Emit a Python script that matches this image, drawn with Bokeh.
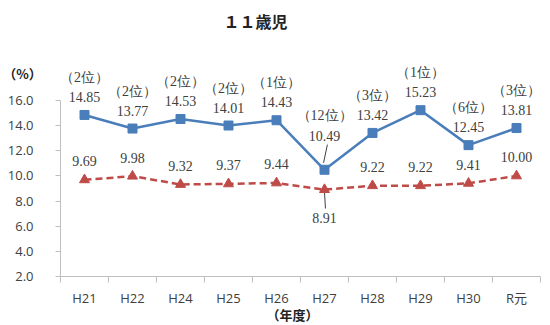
from bokeh.plotting import figure
from bokeh.models import ColumnDataSource, LabelSet, Label, Range1d, FixedTicker
from bokeh.embed import file_html
from bokeh.resources import INLINE

categories = ["H21", "H22", "H24", "H25", "H26", "H27", "H28", "H29", "H30", "R元"]
blue_values = [14.85, 13.77, 14.53, 14.01, 14.43, 10.49, 13.42, 15.23, 12.45, 13.81]
red_values = [9.69, 9.98, 9.32, 9.37, 9.44, 8.91, 9.22, 9.22, 9.41, 10.00]
ranks = ["（2位）", "（2位）", "（2位）", "（2位）", "（1位）", "（12位）", "（3位）", "（1位）", "（6位）", "（3位）"]
y_ticks = [2, 4, 6, 8, 10, 12, 14, 16]

FONT = "'Open Sans', 'Noto Sans CJK JP', sans-serif"
CJK = "'Noto Sans CJK JP', sans-serif"
BLUE = "#4A7EBB"
RED = "#BE4B48"
TXT = "#404040"

# canvas geometry (px): plot box inside the canvas
W, H = 548, 324
BOX_L, BOX_R, BOX_T, BOX_B = 60, 540, 100, 276
n = len(categories)
ppx = (BOX_R - BOX_L) / n
ppy = (BOX_B - BOX_T) / (y_ticks[-1] - y_ticks[0])
x_rng = Range1d(-BOX_L / ppx, n + (W - BOX_R) / ppx)
y_rng = Range1d(y_ticks[0] - (H - BOX_B) / ppy, y_ticks[-1] + BOX_T / ppy)

xs = [i + 0.5 for i in range(n)]

# label offsets in screen px (H27 raised with leader line / red below)
blue_off = [18] * n
rank_off = [37.5] * n
red_off = [18.5] * n
k = categories.index("H27")
blue_off[k] = 34
rank_off[k] = 54
red_off[k] = -28

src = ColumnDataSource(dict(
    x=xs, blue=blue_values, red=red_values,
    blue_lbl=["%.2f" % v for v in blue_values],
    red_lbl=["%.2f" % v for v in red_values],
    rank=ranks, blue_off=blue_off, rank_off=rank_off, red_off=red_off,
))

p = figure(width=W, height=H, output_backend="svg", toolbar_location=None,
           x_range=x_rng, y_range=y_rng, min_border=0)
p.grid.visible = False
p.outline_line_color = None
p.background_fill_color = "white"
p.border_fill_color = "white"

# x axis: labels at centers, ticks at boundaries
xa = p.xaxis[0]
xa.fixed_location = y_ticks[0]
xa.bounds = (0, n)
xa.ticker = FixedTicker(ticks=xs, minor_ticks=list(range(n + 1)))
xa.major_label_overrides = {x: c for x, c in zip(xs, categories)}
xa.major_tick_line_color = None
xa.major_tick_out = 0
xa.major_tick_in = 0
xa.minor_tick_line_color = "#BFBFBF"
xa.minor_tick_out = 6
xa.minor_tick_in = 0
xa.major_label_standoff = 6
xa.axis_line_color = "#BFBFBF"
xa.major_label_text_font = FONT
xa.major_label_text_font_size = "13px"
xa.major_label_text_color = TXT

ya = p.yaxis[0]
ya.fixed_location = 0
ya.bounds = (y_ticks[0], y_ticks[-1])
ya.ticker = FixedTicker(ticks=y_ticks, minor_ticks=[])
ya.major_label_overrides = {t: "%.1f" % t for t in y_ticks}
ya.axis_line_color = "#BFBFBF"
ya.major_tick_line_color = "#BFBFBF"
ya.major_tick_out = 5
ya.major_tick_in = 0
ya.major_label_standoff = 22
ya.major_label_text_font = FONT
ya.major_label_text_font_size = "13px"
ya.major_label_text_color = TXT

# leader lines for H27
p.segment(x0=[xs[k] - 0.02], y0=[blue_values[k] + 0.55], x1=[xs[k] + 0.06], y1=[blue_values[k] + 2.0],
          line_color="#404040", line_width=1)
p.segment(x0=[xs[k]], y0=[red_values[k] - 0.2], x1=[xs[k] + 0.02], y1=[red_values[k] - 1.5],
          line_color="#404040", line_width=1)

p.line("x", "blue", source=src, line_color=BLUE, line_width=2.5)
p.scatter("x", "blue", source=src, marker="square", size=9, fill_color=BLUE, line_color=BLUE)
p.line("x", "red", source=src, line_color=RED, line_width=2.5, line_dash="7 4")
p.scatter("x", "red", source=src, marker="triangle", size=10, fill_color=RED, line_color=RED)

common = dict(text_font=FONT, text_font_size="14px", text_color=TXT,
              text_align="center", text_baseline="middle")
p.add_layout(LabelSet(x="x", y="blue", text="blue_lbl", y_offset="blue_off", source=src, **common))
p.add_layout(LabelSet(x="x", y="blue", text="rank", y_offset="rank_off", source=src, **common))
p.add_layout(LabelSet(x="x", y="red", text="red_lbl", y_offset="red_off", source=src, **common))

def px_label(text, cx, cy, size, bold=True):
    # place text at canvas pixel centre (cx, cy) via the data scales
    p.add_layout(Label(x=(cx - BOX_L) / ppx, y=y_ticks[0] + (BOX_B - cy) / ppy, text=text,
                       text_font=CJK, text_font_size=size, text_font_style="bold" if bold else "normal",
                       text_color="#222222", text_align="center", text_baseline="middle"))

px_label("１１歳児", 255, 20, "16px")
px_label("（%）", 22, 73, "13px")
px_label("（年度）", 292, 314, "13px")

open("out.html", "w").write(file_html(p, INLINE))
